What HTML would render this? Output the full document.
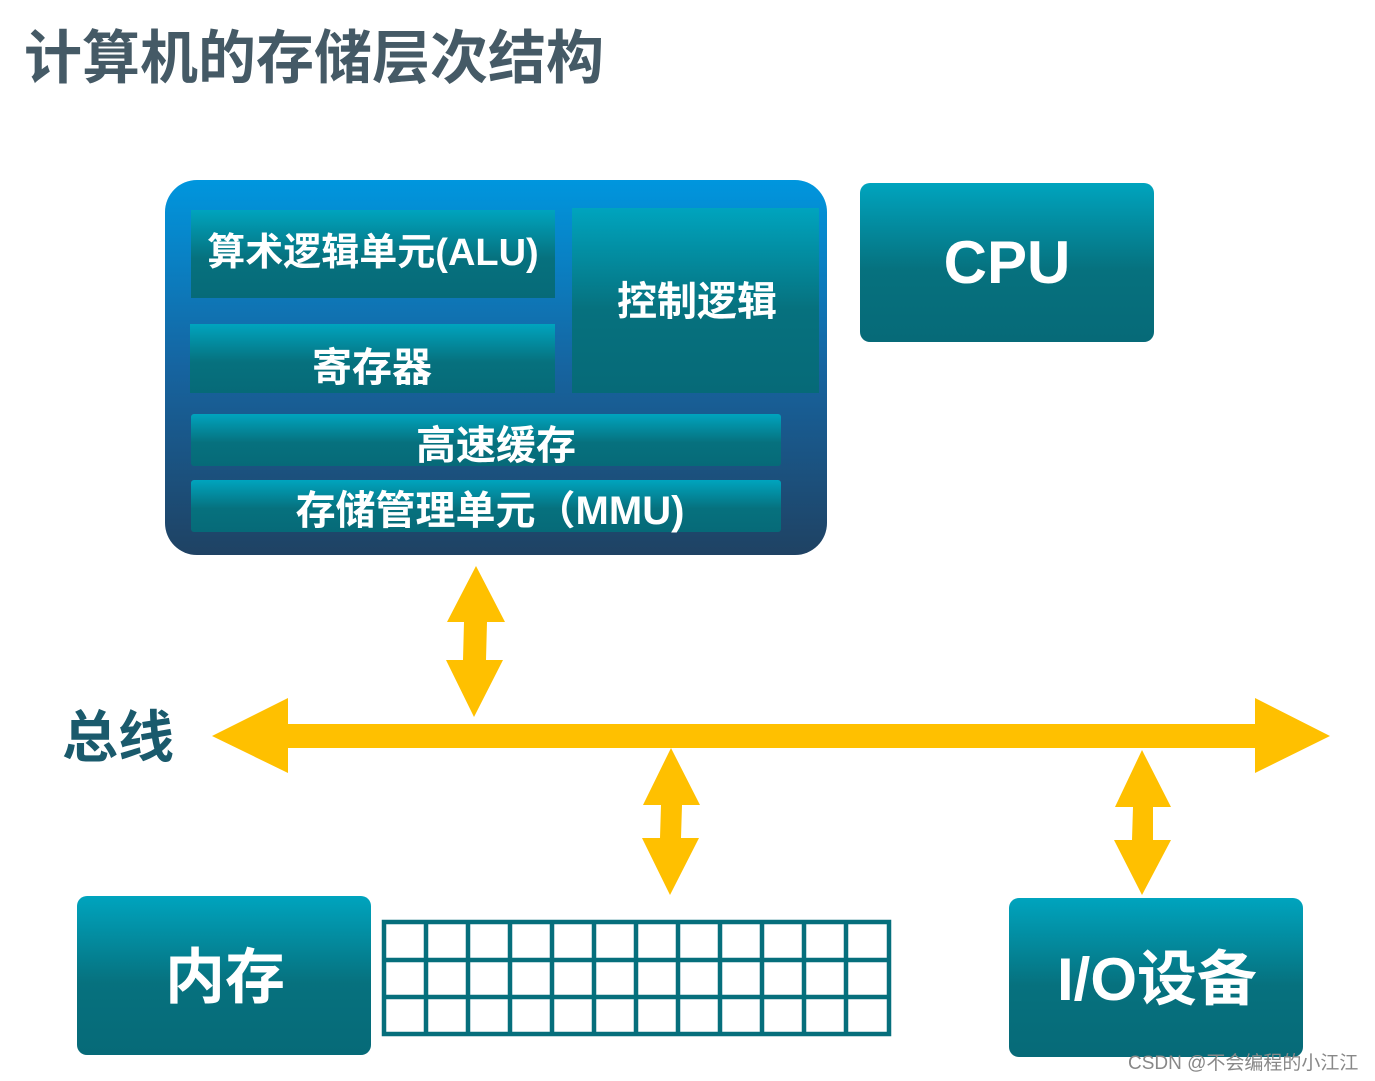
<!DOCTYPE html>
<html><head><meta charset="utf-8"><style>
body{margin:0;background:#fff;}
svg{display:block}
text{font-family:"Liberation Sans","Noto Sans CJK SC",sans-serif;font-weight:bold;}
</style></head><body>
<svg width="1375" height="1081" viewBox="0 0 1375 1081" xmlns="http://www.w3.org/2000/svg">
<defs>
<linearGradient id="t" x1="0" y1="0" x2="0" y2="1">
<stop offset="0" stop-color="#00a4be"/><stop offset="0.55" stop-color="#06717e"/><stop offset="1" stop-color="#066a78"/>
</linearGradient>
<linearGradient id="o" x1="0" y1="0" x2="0" y2="1">
<stop offset="0" stop-color="#0096de"/><stop offset="0.5" stop-color="#1664a0"/><stop offset="1" stop-color="#1f4263"/>
</linearGradient>
</defs>
<text x="24" y="78" font-size="58" fill="#455a66">计算机的存储层次结构</text>

<rect x="165" y="180" width="662" height="375" rx="32" fill="url(#o)"/>
<rect x="191" y="210" width="364" height="88" fill="url(#t)"/>
<rect x="190" y="324" width="365" height="69" fill="url(#t)"/>
<rect x="572" y="208" width="247" height="185" fill="url(#t)"/>
<rect x="191" y="414" width="590" height="52" rx="3" fill="url(#t)"/>
<rect x="191" y="480" width="590" height="52" rx="3" fill="url(#t)"/>
<text x="373" y="265" font-size="38" fill="#fff" text-anchor="middle">算术逻辑单元(ALU)</text>
<text x="372" y="381" font-size="40" fill="#fff" text-anchor="middle">寄存器</text>
<text x="697" y="315" font-size="40" fill="#fff" text-anchor="middle">控制逻辑</text>
<text x="496" y="459" font-size="40" fill="#fff" text-anchor="middle">高速缓存</text>
<text x="490" y="524" font-size="40" fill="#fff" text-anchor="middle">存储管理单元（MMU)</text>

<rect x="860" y="183" width="294" height="159" rx="10" fill="url(#t)"/>
<text x="1007" y="283" font-size="60" fill="#fff" text-anchor="middle">CPU</text>

<!-- bus -->
<path d="M212 736 L288 698 L288 724 L1255 724 L1255 698 L1330 736 L1255 773 L1255 748 L288 748 L288 773 Z" fill="#ffc000"/>
<path d="M476 566 L505 622 L487 622 L486 660 L503 660 L474 717 L446 660 L463 660 L464 622 L447 622 Z" fill="#ffc000"/>
<path d="M671 748 L700 805 L682 805 L681 838 L699 838 L670 895 L642 838 L660 838 L661 805 L643 805 Z" fill="#ffc000"/>
<path d="M1142 750 L1171 807 L1153 807 L1153 840 L1171 840 L1142 895 L1114 840 L1132 840 L1133 807 L1115 807 Z" fill="#ffc000"/>
<text x="62" y="757" font-size="56" fill="#1a5a6c">总线</text>

<rect x="77" y="896" width="294" height="159" rx="10" fill="url(#t)"/>
<text x="225" y="998" font-size="60" fill="#fff" text-anchor="middle">内存</text>
<rect x="1009" y="898" width="294" height="159" rx="10" fill="url(#t)"/>
<text x="1157" y="1000" font-size="60" fill="#fff" text-anchor="middle">I/O设备</text>

<g stroke="#066f7c" stroke-width="4.5" fill="none">
<rect x="384" y="922" width="505" height="112"/>
<path d="M426 922V1034M468 922V1034M510 922V1034M552 922V1034M594 922V1034M636 922V1034M678 922V1034M720 922V1034M762 922V1034M804 922V1034M846 922V1034M384 960H889M384 997H889"/>
</g>
<text x="1128" y="1069" font-size="19" font-weight="normal" fill="#888" style="font-weight:normal">CSDN @不会编程的小江江</text>
</svg>
</body></html>
